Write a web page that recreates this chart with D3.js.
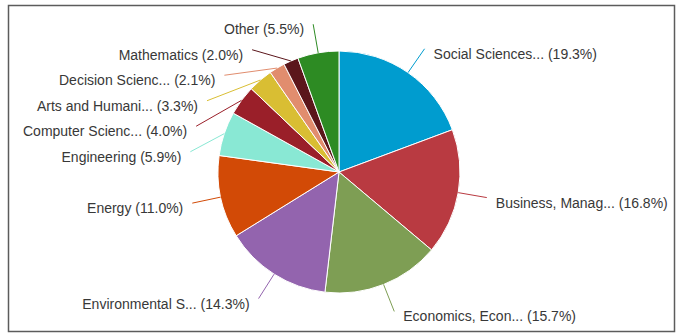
<!DOCTYPE html>
<html>
<head>
<meta charset="utf-8">
<script src="https://cdn.jsdelivr.net/npm/d3@7"></script>
<style>
  html, body { margin: 0; padding: 0; background: #fff; }
  svg { display: block; font-family: "Liberation Sans", Arial, sans-serif; }
</style>
</head>
<body>
<svg id="chart" width="684" height="333"></svg>
<script>
// Subject areas and their share of documents (%)
const categories = [
  "Social Sciences...",
  "Business, Manag...",
  "Economics, Econ...",
  "Environmental S...",
  "Energy",
  "Engineering",
  "Computer Scienc...",
  "Arts and Humani...",
  "Decision Scienc...",
  "Mathematics",
  "Other"
];
const shares = [19.3, 16.8, 15.7, 14.3, 11.0, 5.9, 4.0, 3.3, 2.1, 2.0, 5.5];
const sliceColors = [
  "#009ccf", "#b93a41", "#7e9e54", "#9364ae", "#d24a06",
  "#89e8d4", "#9a1f29", "#d9be33", "#e18d6e", "#5b161b", "#2d8b23"
];

const svg = d3.select("#chart");
const cx = 339, cy = 172, radius = 121, labelRadius = 150, labelGap = 25.5;

// Frame
svg.append("rect")
  .attr("x", 8.5).attr("y", 5.5)
  .attr("width", 666).attr("height", 326)
  .attr("fill", "none").attr("stroke", "#5c5c5c").attr("stroke-width", 1.5);

const data = categories.map((c, i) => ({ name: c, value: shares[i], color: sliceColors[i] }));

const pie = d3.pie().value(d => d.value).sort(null);
const arcs = pie(data);
const arc = d3.arc().innerRadius(0).outerRadius(radius);

const g = svg.append("g").attr("transform", `translate(${cx},${cy})`);

g.selectAll("path.slice")
  .data(arcs)
  .join("path")
  .attr("class", "slice")
  .attr("d", arc)
  .attr("fill", d => d.data.color)
  .attr("stroke", "#fff")
  .attr("stroke-width", 1);

// Label anchors: start on the outer label ring along each slice's mid angle,
// then push overlapping labels downward on each side.
const labels = arcs.map(a => {
  const mid = (a.startAngle + a.endAngle) / 2;
  return {
    a, mid,
    ex: Math.sin(mid) * radius, ey: -Math.cos(mid) * radius,
    x: Math.sin(mid) * labelRadius, y: -Math.cos(mid) * labelRadius,
    side: Math.sin(mid) < 0 ? -1 : 1
  };
});
[-1, 1].forEach(side => {
  const group = labels.filter(l => l.side === side).sort((p, q) => p.y - q.y);
  for (let i = 1; i < group.length; i++) {
    if (group[i].y < group[i - 1].y + labelGap) group[i].y = group[i - 1].y + labelGap;
  }
  group.forEach(l => {
    const dy = Math.min(Math.abs(l.y), labelRadius);
    l.x = side * Math.sqrt(labelRadius * labelRadius - dy * dy);
  });
});

g.selectAll("line.leader")
  .data(labels)
  .join("line")
  .attr("class", "leader")
  .attr("x1", d => d.ex).attr("y1", d => d.ey)
  .attr("x2", d => d.x).attr("y2", d => d.y)
  .attr("stroke", d => d.a.data.color)
  .attr("stroke-width", 1);

g.selectAll("text.label")
  .data(labels)
  .join("text")
  .attr("class", "label")
  .attr("x", d => d.x + d.side * 9)
  .attr("y", d => d.y + 5)
  .attr("dominant-baseline", "central")
  .attr("text-anchor", d => d.side < 0 ? "end" : "start")
  .attr("font-size", 14)
  .attr("fill", "#383838")
  .text(d => `${d.a.data.name} (${d.a.data.value.toFixed(1)}%)`);
</script>
</body>
</html>
